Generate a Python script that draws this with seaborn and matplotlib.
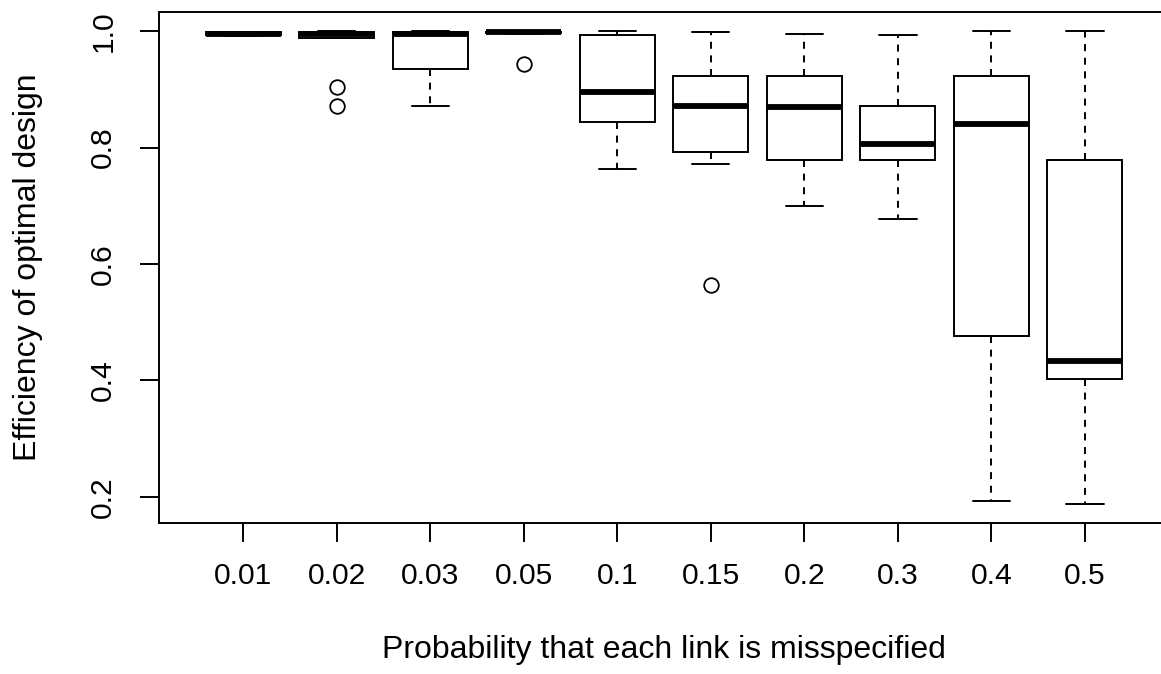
import numpy as np
import pandas as pd
import matplotlib
matplotlib.use("Agg")
import matplotlib.pyplot as plt
import seaborn as sns

# Categories (probability that each link is misspecified)
categories = ["0.01", "0.02", "0.03", "0.05", "0.1", "0.15", "0.2", "0.3", "0.4", "0.5"]

# Efficiency values per category
eff_001 = [0.992, 0.993, 0.994, 0.995, 0.996, 0.997, 0.998, 0.999, 0.999]
eff_002 = [0.872, 0.904, 0.988, 0.993, 0.996, 0.998, 0.9995, 0.9998, 1.0]
eff_003 = [0.871, 0.900, 0.935, 0.970, 0.995, 0.998, 0.999, 1.0, 1.0]
eff_005 = [0.943, 0.996, 0.997, 0.9975, 0.998, 0.9985, 0.999, 1.0, 1.0]
eff_010 = [0.764, 0.800, 0.844, 0.870, 0.896, 0.950, 0.994, 0.999, 1.0]
eff_015 = [0.564, 0.771, 0.792, 0.830, 0.872, 0.900, 0.923, 0.960, 0.999]
eff_020 = [0.699, 0.740, 0.779, 0.820, 0.870, 0.900, 0.923, 0.960, 0.995]
eff_030 = [0.677, 0.730, 0.779, 0.790, 0.806, 0.840, 0.871, 0.930, 0.993]
eff_040 = [0.192, 0.330, 0.4765, 0.700, 0.840, 0.880, 0.923, 0.970, 1.0]
eff_050 = [0.188, 0.300, 0.403, 0.420, 0.434, 0.600, 0.779, 0.900, 1.0]

y_ticks = [0.2, 0.4, 0.6, 0.8, 1.0]
y_tick_labels = ["0.2", "0.4", "0.6", "0.8", "1.0"]

series = [eff_001, eff_002, eff_003, eff_005, eff_010,
          eff_015, eff_020, eff_030, eff_040, eff_050]
df = pd.DataFrame({
    "prob": np.repeat(categories, [len(s) for s in series]),
    "eff": np.concatenate(series),
})

sns.set_theme(style="white")
plt.rcParams["font.family"] = ["Liberation Sans", "DejaVu Sans"]

fig = plt.figure(figsize=(11.61, 6.74), dpi=100)
ax = fig.add_axes([159 / 1161, (674 - 522.7) / 674, 1010 / 1161, 510.4 / 674])

lw = 1.4
sns.boxplot(
    data=df, x="prob", y="eff", order=categories, ax=ax,
    color="white", saturation=1, linecolor="black", linewidth=lw, width=0.8,
    whis=1.5,
    boxprops=dict(facecolor="white", edgecolor="black", linewidth=lw),
    medianprops=dict(color="black", linewidth=4.2, solid_capstyle="butt"),
    whiskerprops=dict(color="black", linewidth=lw, linestyle=(0, (3.6, 3.4))),
    capprops=dict(color="black", linewidth=lw),
    flierprops=dict(marker="o", markerfacecolor="none", markeredgecolor="black",
                    markersize=10.5, markeredgewidth=1.3),
)

ax.set_xlim(-0.9, 9.9)
ax.set_ylim(0.1555, 1.0325)
ax.set_yticks(y_ticks)
ax.set_yticklabels(y_tick_labels, rotation=90, va="center", fontsize=21.6)
ax.set_xticks(range(len(categories)))
ax.set_xticklabels(categories, fontsize=21.6)
ax.tick_params(axis="both", direction="out", length=14, width=lw, color="black",
               left=True, bottom=True, labelcolor="black")
ax.tick_params(axis="x", pad=14)
ax.tick_params(axis="y", pad=16)
for s in ax.spines.values():
    s.set_visible(True)
    s.set_color("black")
    s.set_linewidth(lw)

ax.set_xlabel("Probability that each link is misspecified", fontsize=23, labelpad=33, color="black")
ax.set_ylabel("Efficiency of optimal design", fontsize=23, labelpad=33, color="black")

fig.savefig("out.png", dpi=100, facecolor="white")
